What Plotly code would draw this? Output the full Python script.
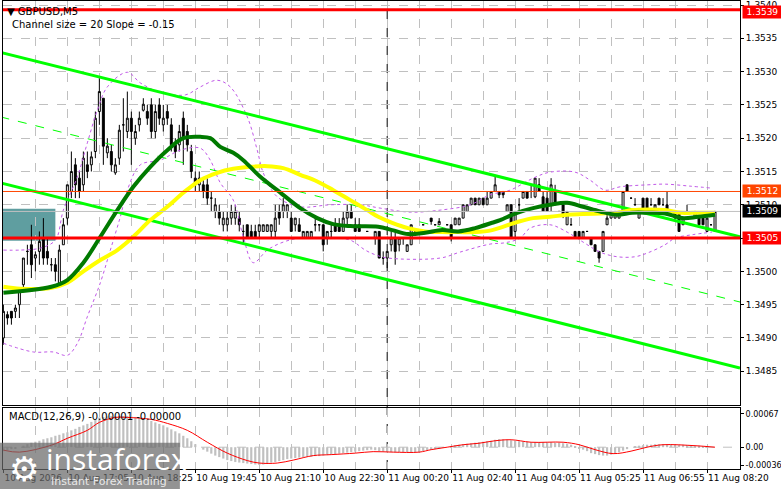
import plotly.graph_objects as go
from plotly.subplots import make_subplots

# GBPUSD M5 candles (bar index 0..178)
bars = list(range(179))

opens = [
    1.3490, 1.34935, 1.3494, 1.3494, 1.3495, 1.3498, 1.3503, 1.3504, 1.3502, 1.3503,
    1.3505, 1.3503, 1.3501, 1.3501, 1.3498, 1.3504, 1.3508, 1.3512, 1.3516, 1.3514,
    1.3513, 1.3516, 1.3516, 1.3518, 1.3524, 1.3526, 1.35178, 1.3518, 1.35148, 1.3517,
    1.3522, 1.3521, 1.3523, 1.3520, 1.3522, 1.35242, 1.3524, 1.3525, 1.3521, 1.3525,
    1.3522, 1.3524, 1.3522, 1.3519, 1.3519, 1.3523, 1.3521, 1.3518, 1.3514, 1.3513,
    1.3513, 1.3513, 1.3511, 1.3509, 1.3509, 1.3507, 1.3507, 1.3508, 1.3508, 1.3508,
    1.3506, 1.3507, 1.3506, 1.3506, 1.3506, 1.3506, 1.3506, 1.3506, 1.3506, 1.3509,
    1.3509, 1.3509, 1.3508, 1.3507, 1.3507, 1.3505, 1.3505, 1.3505, 1.3507, 1.3507,
    1.3507, 1.3505, 1.3506, 1.3507, 1.3507, 1.3506, 1.3508, 1.3509, 1.3507, 1.3507,
    1.3505, 1.3506, 1.3505, 1.3505, 1.3506, 1.3502, 1.3502, 1.3504, 1.3505, 1.3504,
    1.3505, 1.3503, 1.3504, 1.3506, 1.3506, 1.3507, 1.3506, 1.3508, 1.3507, 1.3507,
    1.3506, 1.3507, 1.3507, 1.3507, 1.3507, 1.3508, 1.3509, 1.3510, 1.3511, 1.3510,
    1.3511, 1.3510, 1.3511, 1.3512, 1.3512, 1.3512, 1.3509, 1.3510, 1.3506, 1.3510,
    1.3511, 1.3512, 1.3512, 1.35112, 1.3513, 1.35112, 1.3511, 1.3510, 1.3512, 1.3509,
    1.3510, 1.3507, 1.3507, 1.3506, 1.3506, 1.3505, 1.3506, 1.3505, 1.3504, 1.3503,
    1.3503, 1.3507, 1.3508, 1.3508, 1.3508, 1.3509, 1.3513, 1.3511, 1.3510, 1.3508,
    1.3511, 1.3511, 1.3510, 1.3509, 1.3511, 1.3510, 1.3510, 1.3509, 1.3509, 1.3509,
    1.3507, 1.3509, 1.3508, 1.3508, 1.3508, 1.3508, 1.3506, 1.3507, 1.3506,
]
highs = [
    1.3495, 1.3494, 1.3494, 1.3495, 1.3497, 1.3502, 1.3504, 1.3507, 1.3503, 1.3506,
    1.3508, 1.3505, 1.3502, 1.3502, 1.3504, 1.3508, 1.3513, 1.3518, 1.3517, 1.3515,
    1.3518, 1.3518, 1.3518, 1.3524, 1.3529, 1.3526, 1.3520, 1.3519, 1.3517, 1.3522,
    1.3526, 1.3527, 1.3524, 1.3522, 1.3524, 1.3526, 1.3525, 1.3526, 1.3525, 1.3526,
    1.3525, 1.3525, 1.3523, 1.3520, 1.3522, 1.3524, 1.3522, 1.3519, 1.3515, 1.3515,
    1.3514, 1.3514, 1.3512, 1.3511, 1.3510, 1.3509, 1.3509, 1.3510, 1.3510, 1.3509,
    1.3507, 1.3507, 1.3507, 1.3507, 1.3507, 1.3507, 1.3507, 1.3507, 1.3510, 1.3510,
    1.3511, 1.3510, 1.3509, 1.3508, 1.3508, 1.3506, 1.3506, 1.3506, 1.3508, 1.3507,
    1.3507, 1.3506, 1.3507, 1.3508, 1.3508, 1.3509, 1.3510, 1.3510, 1.3508, 1.3508,
    1.3505, 1.3506, 1.3505, 1.3506, 1.3506, 1.3503, 1.3503, 1.3506, 1.3506, 1.3505,
    1.3505, 1.3504, 1.3507, 1.3506, 1.3506, 1.3507, 1.3506, 1.3508, 1.3507, 1.3508,
    1.3506, 1.3507, 1.3507, 1.3508, 1.3508, 1.3510, 1.3510, 1.3511, 1.3511, 1.3511,
    1.3511, 1.3512, 1.3512, 1.35143, 1.3512, 1.3512, 1.3510, 1.3510, 1.3509, 1.3511,
    1.3512, 1.3512, 1.3513, 1.3514, 1.3514, 1.3512, 1.3512, 1.3514, 1.3513, 1.3509,
    1.3510, 1.3509, 1.3508, 1.3506, 1.3506, 1.3506, 1.3506, 1.3505, 1.3504, 1.3503,
    1.3506, 1.3509, 1.3509, 1.3509, 1.3509, 1.3512, 1.3513, 1.3511, 1.3511, 1.3509,
    1.3511, 1.3511, 1.3511, 1.3510, 1.3511, 1.3511, 1.3512, 1.3509, 1.3509, 1.3509,
    1.3508, 1.3510, 1.3508, 1.3509, 1.3508, 1.3508, 1.3508, 1.3507, 1.3509,
]
lows = [
    1.3489, 1.3492, 1.3492, 1.3493, 1.3493, 1.3497, 1.3501, 1.3499, 1.3500, 1.3501,
    1.3501, 1.3501, 1.3500, 1.34985, 1.3498, 1.3504, 1.3507, 1.3511, 1.3511, 1.3511,
    1.3512, 1.3514, 1.3515, 1.3517, 1.3522, 1.3516, 1.3517, 1.3515, 1.35145, 1.3516,
    1.3518, 1.3520, 1.3516, 1.3519, 1.3521, 1.3524, 1.3522, 1.3520, 1.3520, 1.3522,
    1.3521, 1.3522, 1.3518, 1.3517, 1.3518, 1.3516, 1.3518, 1.3514, 1.3512, 1.3512,
    1.3511, 1.3510, 1.3509, 1.3508, 1.3507, 1.3506, 1.3506, 1.3507, 1.3507, 1.3506,
    1.3504, 1.3505, 1.3505, 1.3505, 1.3505, 1.3506, 1.3506, 1.3505, 1.3505, 1.3507,
    1.3508, 1.3508, 1.3506, 1.3506, 1.3506, 1.3505, 1.3505, 1.3505, 1.3506, 1.3506,
    1.3503, 1.3504, 1.3505, 1.3506, 1.3506, 1.3506, 1.3507, 1.3508, 1.3506, 1.3506,
    1.3505, 1.3506, 1.3505, 1.3504, 1.3502, 1.3501, 1.35005, 1.3503, 1.3501, 1.3503,
    1.3504, 1.3503, 1.3504, 1.3506, 1.3506, 1.3507, 1.3506, 1.3507, 1.3507, 1.3507,
    1.3506, 1.3507, 1.35045, 1.3507, 1.3507, 1.3508, 1.3509, 1.3510, 1.3510, 1.3510,
    1.3510, 1.3510, 1.3511, 1.3512, 1.3511, 1.3511, 1.3509, 1.3505, 1.3505, 1.3509,
    1.3511, 1.3511, 1.3511, 1.3511, 1.3512, 1.3509, 1.3509, 1.3509, 1.3510, 1.3509,
    1.3508, 1.3507, 1.3507, 1.3505, 1.3505, 1.3505, 1.3506, 1.3504, 1.3503, 1.35013,
    1.3503, 1.3507, 1.3508, 1.3508, 1.3508, 1.3509, 1.3512, 1.3511, 1.3510, 1.3508,
    1.3509, 1.3509, 1.3510, 1.3509, 1.3510, 1.3510, 1.3509, 1.3509, 1.3508, 1.3506,
    1.3507, 1.3509, 1.3508, 1.3508, 1.3507, 1.3507, 1.3506, 1.3507, 1.3506,
]
closes = [
    1.3494, 1.3493, 1.3493, 1.34945, 1.3497, 1.3502, 1.3503, 1.3501, 1.35025, 1.35045,
    1.3502, 1.3502, 1.3501, 1.3500, 1.35032, 1.3507, 1.3513, 1.3515, 1.3513, 1.3512,
    1.3517, 1.3515, 1.35172, 1.3523, 1.3527, 1.35188, 1.35188, 1.3516, 1.3516, 1.35212,
    1.3522, 1.3523, 1.3521, 1.3521, 1.3523, 1.35251, 1.3523, 1.3521, 1.3524, 1.3523,
    1.3523, 1.3523, 1.3519, 1.3518, 1.3521, 1.3520, 1.3519, 1.3515, 1.3513, 1.3514,
    1.3512, 1.3511, 1.3511, 1.3510, 1.3508, 1.3508, 1.3508, 1.3509, 1.3509, 1.3507,
    1.3506, 1.3505, 1.3505, 1.3505, 1.3507, 1.3507, 1.3507, 1.3507, 1.3508, 1.3508,
    1.3510, 1.3510, 1.3506, 1.3508, 1.3506, 1.3506, 1.3506, 1.3506, 1.3507, 1.3507,
    1.3504, 1.3506, 1.3506, 1.3506, 1.3506, 1.3508, 1.3509, 1.3508, 1.3506, 1.3506,
    1.3505, 1.3506, 1.3505, 1.3506, 1.3502, 1.3502, 1.3503, 1.3505, 1.3503, 1.3505,
    1.3505, 1.3504, 1.3507, 1.3506, 1.3506, 1.3507, 1.3506, 1.35075, 1.3507, 1.35075,
    1.3506, 1.3507, 1.3505, 1.3508, 1.3508, 1.3510, 1.3510, 1.3511, 1.3510, 1.3511,
    1.3510, 1.3511, 1.3512, 1.3513, 1.35115, 1.35115, 1.3510, 1.3505, 1.3509, 1.3510,
    1.3512, 1.3511, 1.3512, 1.3514, 1.3512, 1.3509, 1.3509, 1.3513, 1.3510, 1.3509,
    1.35085, 1.3509, 1.3507, 1.3505, 1.3505, 1.3506, 1.3506, 1.3504, 1.3503, 1.3502,
    1.3506, 1.3508, 1.3509, 1.3509, 1.3509, 1.3512, 1.3512, 1.3511, 1.3510, 1.3509,
    1.3509, 1.3509, 1.3510, 1.3510, 1.3510, 1.3510, 1.3509, 1.3509, 1.3508, 1.3506,
    1.3508, 1.3509, 1.3508, 1.3509, 1.3507, 1.3507, 1.3508, 1.3507, 1.3509,
]

# moving averages (bar index, price)
ma_green_bar = [0, 12, 16, 20, 24.25, 28.5, 32.5, 36.75, 41, 45, 49.25, 51.75, 54.25, 57.5, 60,
                64.25, 68.5, 74.25, 78.5, 82.5, 86.75, 93.75, 97.25, 101.25, 105.5, 109.75, 113.75,
                118, 122.25, 124.25, 128.5, 132.5, 136.75, 141, 145, 149.25, 153.5, 157.25, 161.25,
                165.5, 169.75, 173.75, 178]
ma_green = [1.34968, 1.34977, 1.34987, 1.35013, 1.35052, 1.35092, 1.35127, 1.35157, 1.35182, 1.35200,
            1.35202, 1.35200, 1.35187, 1.35178, 1.35167, 1.35142, 1.35122, 1.35095, 1.35080, 1.35071,
            1.35068, 1.35067, 1.35062, 1.35056, 1.35058, 1.35062, 1.35060, 1.35065, 1.35073, 1.35077,
            1.35088, 1.35095, 1.35100, 1.35103, 1.35097, 1.35090, 1.35085, 1.35088, 1.35088, 1.35087,
            1.35080, 1.35082, 1.35085]
ma_yellow_bar = [0, 4.25, 11.75, 16, 20, 24.25, 28.5, 32.5, 36.75, 41, 45, 49.25, 53.5, 57.5, 61.75,
                 66, 70, 74.25, 78.5, 82.5, 86.75, 91, 93.75, 97.25, 101.25, 105.5, 109.75, 113.75, 118,
                 122.25, 128.5, 132.5, 136.75, 141, 145, 149.25, 153.5, 157.25, 161.25, 165.5, 169.75,
                 173.75, 178]
ma_yellow = [1.34977, 1.34974, 1.34975, 1.34983, 1.35000, 1.35017, 1.35032, 1.35052, 1.35077, 1.35097,
             1.35118, 1.35137, 1.35148, 1.35154, 1.35157, 1.35158, 1.35155, 1.35145, 1.35135, 1.35122,
             1.35107, 1.35092, 1.35082, 1.35073, 1.35065, 1.35060, 1.35059, 1.35059, 1.35059, 1.35062,
             1.35074, 1.35080, 1.35082, 1.35085, 1.35086, 1.35087, 1.35088, 1.35092, 1.35093, 1.35092,
             1.35088, 1.35088, 1.35088]

# bands (purple dotted)
band_up_bar = [0, 4.25, 9.25, 13, 15, 18.5, 21, 23.5, 26, 31, 34.25, 39.25, 45.5, 49.25, 53.5, 56.75,
               61, 63.5, 65, 68.5, 74.25, 81.75, 89.25, 94.25, 101.75, 109.25, 116.75, 121.75, 126.75,
               132.5, 136.75, 143, 146.75, 150.5, 154.25, 161.25, 165.5, 171.75, 177.25]
band_up = [1.35032, 1.35032, 1.35035, 1.35047, 1.35092, 1.35142, 1.35193, 1.35242, 1.35277, 1.35299,
           1.35283, 1.35269, 1.35265, 1.35277, 1.35287, 1.35277, 1.35232, 1.35182, 1.35148, 1.35112,
           1.35097, 1.35100, 1.35100, 1.35095, 1.35089, 1.35092, 1.35100, 1.35115, 1.35122, 1.35140,
           1.35149, 1.35149, 1.35137, 1.35122, 1.35127, 1.35130, 1.35131, 1.35128, 1.35125]
band_lo_bar = [0, 7.5, 12.5, 16, 18.5, 21, 24.25, 26.75, 29.25, 31, 34.25, 39.25, 44.25, 49.25, 51.75,
               54.25, 57.5, 60, 62.5, 66, 70, 74.25, 81.75, 86.75, 90.5, 93, 96.25, 109.25, 114.25,
               121.75, 125.5, 129.25, 131.75, 136.75, 141, 145, 149.25, 153.5, 158, 161.25, 165.5, 168,
               172.25, 177.25]
band_lo = [1.34892, 1.34879, 1.34879, 1.34874, 1.34892, 1.34932, 1.34983, 1.35032, 1.35082, 1.35122,
           1.35160, 1.35167, 1.35182, 1.35185, 1.35167, 1.35133, 1.35107, 1.35052, 1.35013, 1.35032,
           1.35044, 1.35050, 1.35050, 1.35047, 1.35032, 1.35025, 1.35020, 1.35020, 1.35029, 1.35041,
           1.35043, 1.35050, 1.35065, 1.35070, 1.35059, 1.35044, 1.35029, 1.35022, 1.35022, 1.35028,
           1.35040, 1.35050, 1.35055, 1.35059]

# regression channel ends
channel_bar = [-0.75, 184.25]
channel_up = [1.35329, 1.35052]
channel_mid = [1.35232, 1.34954]
channel_lo = [1.35133, 1.34855]

# MACD (units of 0.00001)
macd_hist = [
    -8, -6, -4, -2, 0, 3, 6, 9, 11, 13,
    16, 18, 20, 23, 25, 28, 30, 34, 37, 41,
    44, 47, 51, 55, 60, 61, 62, 63, 63, 63,
    63, 63, 62, 61, 59, 57, 55, 53, 50, 47,
    44, 40, 36, 32, 28, 23, 18, 12, 6, 0,
    -5, -9, -13, -17, -20, -23, -26, -28, -30, -31,
    -32, -33, -34, -35, -36, -35, -33, -31, -30, -28,
    -26, -24, -23, -22, -21, -20, -19, -19, -18, -18,
    -17, -16, -15, -14, -13, -12, -11, -10, -9, -8,
    -7, -6, -5, -6, -8, -9, -10, -10, -10, -10,
    -10, -10, -10, -10, -10, -8, -6, -5, -4, -3,
    -1, 0, 2, 4, 5, 6, 7, 8, 9, 10,
    11, 12, 13, 15, 16, 16, 15, 14, 13, 12,
    11, 11, 10, 10, 10, 10, 10, 10, 9, 9,
    8, 7, 5, 2, -2, -5, -8, -12, -14, -16,
    -17, -17, -15, -12, -10, -7, -4, 0, 2, 3,
    4, 5, 5, 6, 6, 6, 6, 6, 5, 5,
    5, 4, 4, 3, 3, 2, 1, 0, 0,
]
macd_sig_bar = [0, 4, 12, 16, 21, 24, 28, 31, 37, 41, 46, 51, 56, 61, 64, 68.5, 72.5, 77.5, 82, 88,
                92.5, 97.5, 104, 107, 111, 115, 119, 123, 127, 132, 140, 144, 148, 152.5, 157, 161,
                165, 173, 178]
macd_sig = [-6, -10, 4, 18, 34, 50, 60, 60, 56, 48, 34, 10, -12, -27, -32, -32, -26, -17, -15, -12,
            -9, -10, -10, -5, 0, 5, 8, 13, 15, 10, 10, 5, -5, -13, -8, 0, 5, 3, 0]

tick_bars = [0, 16, 32, 48, 64, 80, 96, 112, 128, 144, 160, 176]
tick_text = ["10 Aug 2026", "10 Aug 17:05", "10 Aug 18:25", "10 Aug 19:45", "10 Aug 21:10",
             "10 Aug 22:30", "11 Aug 00:20", "11 Aug 02:40", "11 Aug 04:05", "11 Aug 05:25",
             "11 Aug 06:55", "11 Aug 08:20"]
grid_bars = [8, 24, 40, 56, 72, 88, 104, 120, 136, 152, 168, 184]
price_ticks = [1.3485, 1.3490, 1.3495, 1.3500, 1.3505, 1.3510, 1.3515, 1.3520, 1.3525, 1.3530,
               1.3535, 1.3540]

FONT = "DejaVu Sans"
GRID = "#c0c0c0"

fig = make_subplots(rows=2, cols=1, shared_xaxes=True)

fig.add_trace(go.Scatter(x=band_up_bar, y=band_up, mode="lines", line_shape="spline",
                         line=dict(color="#c058e8", width=1, dash="dot")), row=1, col=1)
fig.add_trace(go.Scatter(x=band_lo_bar, y=band_lo, mode="lines", line_shape="spline",
                         line=dict(color="#c058e8", width=1, dash="dot")), row=1, col=1)
fig.add_trace(go.Scatter(x=channel_bar, y=channel_mid, mode="lines",
                         line=dict(color="#00ff00", width=1, dash="dash")), row=1, col=1)
fig.add_trace(go.Scatter(x=channel_bar, y=channel_up, mode="lines",
                         line=dict(color="#00ff00", width=3)), row=1, col=1)
fig.add_trace(go.Scatter(x=channel_bar, y=channel_lo, mode="lines",
                         line=dict(color="#00ff00", width=3)), row=1, col=1)
fig.add_trace(go.Scatter(x=ma_yellow_bar, y=ma_yellow, mode="lines", line_shape="spline",
                         line=dict(color="#ffff00", width=4)), row=1, col=1)
fig.add_trace(go.Scatter(x=ma_green_bar, y=ma_green, mode="lines", line_shape="spline",
                         line=dict(color="#007a00", width=4)), row=1, col=1)

fig.add_trace(go.Candlestick(
    x=bars, open=opens, high=highs, low=lows, close=closes,
    increasing=dict(fillcolor="white", line=dict(color="black", width=1)),
    decreasing=dict(fillcolor="black", line=dict(color="black", width=1)),
    whiskerwidth=0, hoverinfo="skip"), row=1, col=1)

fig.add_trace(go.Bar(x=bars, y=[v * 1e-5 for v in macd_hist], marker_color="#c0c0c0",
                     marker_line_width=0), row=2, col=1)
fig.add_trace(go.Scatter(x=macd_sig_bar, y=[v * 1e-5 for v in macd_sig], mode="lines",
                         line_shape="spline", line=dict(color="red", width=1)), row=2, col=1)

shapes = []
# price levels
for lvl, col, w in [(1.35393, "red", 3), (1.3505, "red", 3), (1.3512, "#ff4500", 1), (1.3509, "#c0c0c0", 1)]:
    shapes.append(dict(type="line", xref="x domain", yref="y", x0=0, x1=1, y0=lvl, y1=lvl,
                       line=dict(color=col, width=w), layer="above"))
# teal zone
shapes.append(dict(type="rect", xref="x", yref="y", x0=-0.75, x1=13, y0=1.35046, y1=1.35094,
                   fillcolor="#5f9ea0", line_width=0, layer="below"))
# day separator
shapes.append(dict(type="line", xref="x", yref="paper", x0=96, x1=96, y0=0, y1=1,
                   line=dict(color="black", width=1, dash="dash"), layer="below"))
# macd zero line
shapes.append(dict(type="line", xref="x2 domain", yref="y2", x0=0, x1=1, y0=0, y1=0,
                   line=dict(color=GRID, width=1, dash="dash"), layer="below"))
# watermark box
shapes.append(dict(type="rect", xref="paper", yref="paper", x0=-0.01, x1=0.24, y0=-0.05, y1=0.056,
                   fillcolor="rgba(105,105,105,0.72)", line_width=0, layer="above"))
fig.update_layout(shapes=shapes)

annotations = [
    dict(text="▼ GBPUSD,M5", x=0.003, y=0.994, xref="paper", yref="paper", xanchor="left",
         yanchor="top", showarrow=False, font=dict(family=FONT, size=10, color="black")),
    dict(text="Channel size = 20 Slope = -0.15", x=0.01, y=0.966, xref="paper", yref="paper",
         xanchor="left", yanchor="top", showarrow=False, font=dict(family=FONT, size=10, color="black")),
    dict(text="MACD(12,26,9) -0.00001 -0.00000", x=0.005, y=0.128, xref="paper", yref="paper",
         xanchor="left", yanchor="top", showarrow=False, font=dict(family=FONT, size=10, color="black")),
    dict(text="⚙", x=0.005, y=0.0, xref="paper", yref="paper", xanchor="left", yanchor="middle",
         showarrow=False, font=dict(family=FONT, size=34, color="white")),
    dict(text="instaforex", x=0.055, y=0.022, xref="paper", yref="paper", xanchor="left",
         yanchor="middle", showarrow=False, font=dict(family="Open Sans", size=30, color="white")),
    dict(text="Instant Forex Trading", x=0.062, y=-0.027, xref="paper", yref="paper", xanchor="left",
         yanchor="middle", showarrow=False, font=dict(family=FONT, size=11, color="#e8e8e8")),
]
for lvl, bg in [(1.3539, "red"), (1.3512, "#ff4500"), (1.3509, "black"), (1.3505, "red")]:
    annotations.append(dict(text=f"{lvl:.4f}", x=1, y=lvl, xref="paper", yref="y", xanchor="left",
                            xshift=2, showarrow=False, bgcolor=bg, width=37, borderpad=1,
                            font=dict(family=FONT, size=9, color="white")))
fig.update_layout(annotations=annotations)

axis_common = dict(showline=True, linecolor="black", linewidth=1, mirror=True, zeroline=False)
fig.update_xaxes(range=[-0.1, 184.25], tickvals=tick_bars, ticktext=tick_text, showgrid=True,
                 gridcolor=GRID, griddash="dash", gridwidth=1, tickangle=0,
                 minor=dict(tickvals=grid_bars, showgrid=True, gridcolor=GRID, griddash="dash"),
                 rangeslider_visible=False, **axis_common)
fig.update_xaxes(showticklabels=False, row=1, col=1)
fig.update_xaxes(ticks="outside", ticklen=3, tickcolor="black", ticklabelposition="outside right",
                 tickfont=dict(family=FONT, size=9, color="black"), row=2, col=1)

fig.update_layout(
    width=781, height=489,
    margin=dict(l=3, r=41, t=1, b=20, autoexpand=False),
    paper_bgcolor="white", plot_bgcolor="white",
    showlegend=False, bargap=0.45, hovermode=False,
    yaxis=dict(domain=[0.1368, 1.0], range=[1.347994, 1.35406], side="right", tickvals=price_ticks,
               tickformat=".4f", showgrid=True, gridcolor=GRID, griddash="dash", ticks="outside",
               ticklen=3, tickcolor="black", tickfont=dict(family=FONT, size=9, color="black"),
               **axis_common),
    yaxis2=dict(domain=[0.0, 0.1303], range=[-0.00044, 0.00079], side="right",
                tickvals=[0.00067, 0.0, -0.00036], ticktext=["0.00067", "0.00", "-0.00036"],
                showgrid=False, ticks="outside", ticklen=3, tickcolor="black",
                tickfont=dict(family=FONT, size=8, color="black"), **axis_common),
)

fig.write_html("out.html", config={"displayModeBar": False},
               post_script="document.body.style.margin='0';")
